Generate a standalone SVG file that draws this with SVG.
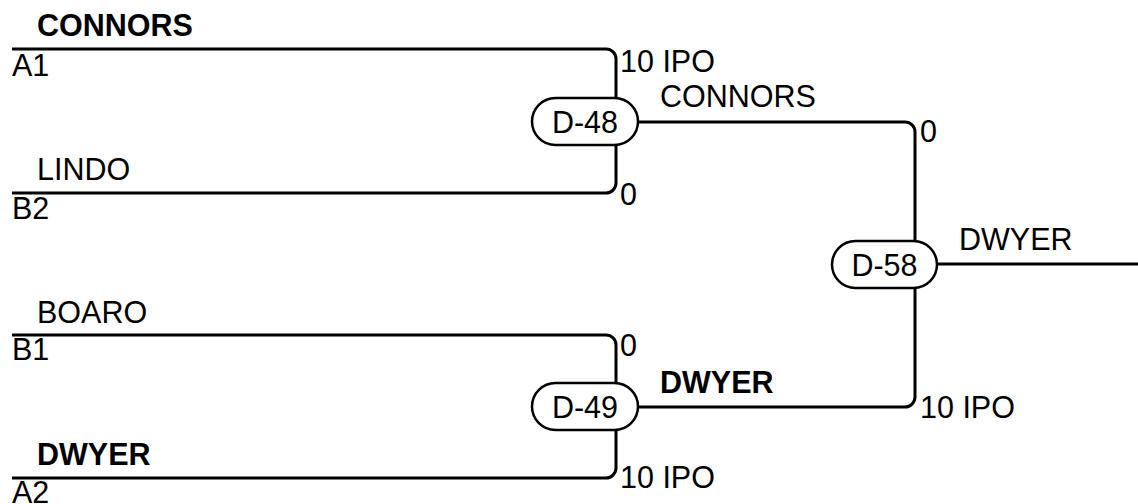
<svg xmlns="http://www.w3.org/2000/svg" width="1138" height="504" viewBox="0 0 1138 504">
<style>
text{font-family:"Liberation Sans",Arial,sans-serif;font-size:30.5px;fill:#000}
.b{font-weight:bold}
.c{text-anchor:middle}
.ln{fill:none;stroke:#000;stroke-width:3}
.pill{fill:#fff;stroke:#000;stroke-width:2.5}
</style>
<rect width="1138" height="504" fill="#fff"/>
<g id="connectors">
<path class="ln" d="M12,49 H606 A10,10 0 0 1 616,59 V98"/>
<path class="ln" d="M12,193 H606 A10,10 0 0 0 616,183 V145"/>
<path class="ln" d="M638,122 H905 A10,10 0 0 1 915,132 V241"/>
<path class="ln" d="M12,335 H606 A10,10 0 0 1 616,345 V382"/>
<path class="ln" d="M12,478 H606 A10,10 0 0 0 616,468 V430"/>
<path class="ln" d="M638,407 H905 A10,10 0 0 0 915,397 V288"/>
<path class="ln" d="M937,264 H1138"/>
</g>
<g id="labels">
<text x="37" y="36" class="b">CONNORS</text>
<text x="12" y="76">A1</text>
<text x="37" y="180">LINDO</text>
<text x="12" y="219">B2</text>
<text x="37" y="323">BOARO</text>
<text x="12" y="360">B1</text>
<text x="37" y="465" class="b">DWYER</text>
<text x="12" y="503">A2</text>
<text x="620" y="72">10 IPO</text>
<text x="620" y="205">0</text>
<text x="660" y="107">CONNORS</text>
<text x="920" y="142">0</text>
<text x="620" y="356">0</text>
<text x="620" y="488">10 IPO</text>
<text x="660" y="393" class="b">DWYER</text>
<text x="920" y="418">10 IPO</text>
<text x="959" y="250">DWYER</text>
</g>
<g id="D-48">
<rect class="pill" x="532" y="98" width="106" height="47" rx="23.5"/>
<text x="585" y="133" class="c">D-48</text>
</g>
<g id="D-49">
<rect class="pill" x="532" y="383" width="106" height="47" rx="23.5"/>
<text x="585" y="418" class="c">D-49</text>
</g>
<g id="D-58">
<rect class="pill" x="832" y="241" width="105" height="47" rx="23.5"/>
<text x="884.5" y="276" class="c">D-58</text>
</g>
</svg>
